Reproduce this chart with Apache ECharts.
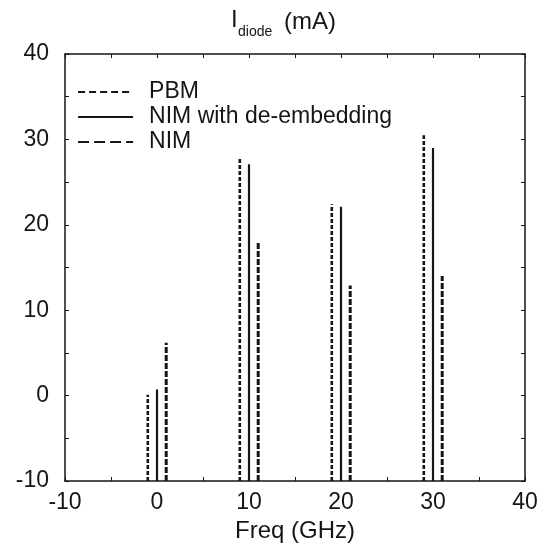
<!DOCTYPE html>
<html>
<head>
<meta charset="utf-8">
<script src="https://cdn.jsdelivr.net/npm/echarts@6/dist/echarts.min.js"></script>
<style>html,body{margin:0;padding:0;background:#fff;}#c{width:547px;height:551px;}</style>
</head>
<body>
<div id="c"></div>
<script>
// Data
var freqs = [0, 10, 20, 30];           // GHz (harmonic frequencies)
var pbmOffset = -1, nimOffset = 1;     // small horizontal shifts used in the figure
var pbm = [0.1, 27.8, 22.4, 30.5];     // PBM (mA)
var nimDe = [0.7, 27.1, 22.1, 29.0];   // NIM with de-embedding (mA)
var nim = [6.2, 18.0, 12.9, 14.0];     // NIM (mA)
var yBase = -10;
var xTicks = [-10, 0, 10, 20, 30, 40];
var yTicks = [-10, 0, 10, 20, 30, 40];

function stems(vals, off) {
  var d = [];
  for (var i = 0; i < vals.length; i++) {
    d.push([freqs[i] + off, yBase]);
    d.push([freqs[i] + off, vals[i]]);
    d.push('-');
  }
  return d;
}

var ink = '#151515';
var font = 'Liberation Sans, Arial, Helvetica, sans-serif';
var chart = echarts.init(document.getElementById('c'));
var labelFmt = function (v) { return (v % 10 === 0) ? String(v) : ''; };

chart.setOption({
  animation: false,
  backgroundColor: '#ffffff',
  title: [
    { text: 'I', left: 226, top: 3, textStyle: { fontFamily: font, fontSize: 24, fontWeight: 'normal', color: ink } },
    { text: 'diode', left: 233, top: 20, textStyle: { fontFamily: font, fontSize: 14, fontWeight: 'normal', color: ink } },
    { text: '(mA)', left: 279, top: 5, textStyle: { fontFamily: font, fontSize: 24, fontWeight: 'normal', color: ink } }
  ],
  legend: {
    orient: 'vertical',
    left: 77, top: 80,
    padding: 0,
    itemWidth: 55, itemHeight: 14, itemGap: 1,
    itemStyle: { opacity: 0 },
    textStyle: { fontFamily: font, fontSize: 23, color: ink, lineHeight: 24, padding: [0, 0, 0, 11] },
    data: [
      { name: 'PBM', lineStyle: { type: [7, 4], width: 2 } },
      { name: 'NIM with de-embedding', lineStyle: { width: 2 } },
      { name: 'NIM', lineStyle: { type: [11, 5], width: 2.2 } }
    ]
  },
  grid: { left: 65, right: 22, top: 54, bottom: 70 },
  xAxis: [{
    type: 'value', min: -10, max: 40, interval: 5, position: 'bottom',
    name: 'Freq (GHz)', nameLocation: 'middle', nameGap: 35,
    nameTextStyle: { fontFamily: font, fontSize: 24, color: ink },
    axisLine: { show: true, onZero: false, lineStyle: { color: ink, width: 1.5 } },
    axisTick: { show: true, inside: true, length: 4, lineStyle: { color: ink } },
    axisLabel: { fontFamily: font, fontSize: 23, color: ink, margin: 10, formatter: labelFmt },
    splitLine: { show: false }
  }, {
    type: 'value', min: -10, max: 40, interval: 5, position: 'top',
    axisLine: { show: true, onZero: false, lineStyle: { color: ink, width: 1.5 } },
    axisTick: { show: true, inside: true, length: 4, lineStyle: { color: ink } },
    axisLabel: { show: false }, splitLine: { show: false }
  }],
  yAxis: [{
    type: 'value', min: -10, max: 40, interval: 5, position: 'left',
    axisLine: { show: true, onZero: false, lineStyle: { color: ink, width: 1.5 } },
    axisTick: { show: true, inside: true, length: 4, lineStyle: { color: ink } },
    axisLabel: { fontFamily: font, fontSize: 23, color: ink, margin: 16, formatter: labelFmt },
    splitLine: { show: false }
  }, {
    type: 'value', min: -10, max: 40, interval: 5, position: 'right',
    axisLine: { show: true, onZero: false, lineStyle: { color: ink, width: 1.5 } },
    axisTick: { show: true, inside: true, length: 4, lineStyle: { color: ink } },
    axisLabel: { show: false }, splitLine: { show: false }
  }],
  series: [{
    name: 'PBM', type: 'line', symbol: 'none', connectNulls: false,
    lineStyle: { color: ink, width: 2.6, type: [4, 2] }, itemStyle: { color: ink },
    data: stems(pbm, pbmOffset)
  }, {
    name: 'NIM with de-embedding', type: 'line', symbol: 'none', connectNulls: false,
    lineStyle: { color: ink, width: 2.2, type: 'solid' }, itemStyle: { color: ink },
    data: stems(nimDe, 0)
  }, {
    name: 'NIM', type: 'line', symbol: 'none', connectNulls: false,
    lineStyle: { color: ink, width: 3, type: [6, 2] }, itemStyle: { color: ink },
    data: stems(nim, nimOffset)
  }]
});
</script>
</body>
</html>
